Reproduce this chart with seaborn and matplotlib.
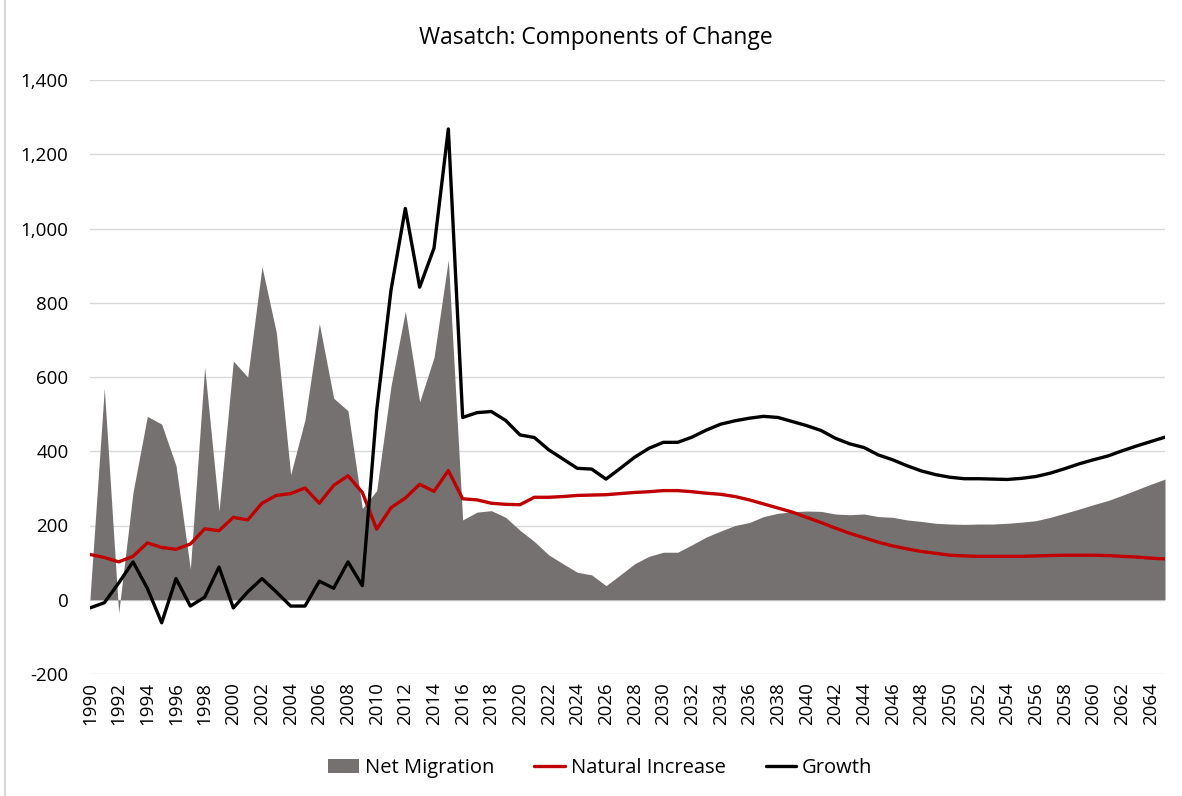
import matplotlib
matplotlib.use("Agg")
import matplotlib.pyplot as plt
import matplotlib.ticker as mticker
from matplotlib.patches import Patch
from matplotlib.lines import Line2D
import seaborn as sns
import pandas as pd

# data
years = list(range(1990, 2066))

net_migration = [
    5, 570, -36, 289, 494, 473, 361, 83, 626, 239,
    643, 600, 897, 720, 337, 485, 744, 543, 509, 246,
    294, 576, 777, 533, 653, 916, 215, 236, 240, 222,
    187, 157, 121, 97, 74, 67, 38, 67, 97, 117,
    128, 128, 148, 169, 185, 200, 208, 224, 233, 237,
    239, 238, 231, 229, 231, 224, 222, 215, 211, 206,
    204, 203, 204, 204, 206, 209, 213, 222, 233, 244,
    256, 267, 281, 296, 311, 325,
]

natural_increase = [
    122, 114, 102, 117, 153, 141, 136, 150, 191, 186,
    222, 215, 260, 281, 286, 301, 260, 308, 334, 289,
    190, 248, 274, 311, 292, 348, 272, 269, 260, 257,
    256, 276, 276, 278, 281, 282, 283, 286, 289, 291,
    294, 294, 291, 287, 284, 278, 269, 258, 247, 236,
    222, 208, 193, 179, 167, 155, 145, 137, 130, 125,
    120, 118, 117, 117, 117, 117, 118, 119, 120, 120,
    120, 119, 117, 115, 112, 110,
]

growth = [
    -22, -8, 45, 102, 31, -62, 57, -17, 7, 88,
    -22, 21, 57, 21, -17, -17, 50, 31, 102, 38,
    510, 834, 1054, 842, 947, 1268, 491, 504, 507, 483,
    444, 437, 404, 379, 354, 352, 325, 354, 384, 408,
    424, 424, 438, 457, 473, 482, 489, 494, 491, 480,
    469, 456, 435, 420, 410, 390, 377, 361, 347, 337,
    330, 326, 326, 325, 324, 327, 332, 341, 353, 366,
    377, 387, 401, 414, 426, 438,
]

df = pd.DataFrame({
    "Year": years,
    "Net Migration": net_migration,
    "Natural Increase": natural_increase,
    "Growth": growth,
})

sns.set_style("white")
plt.rcParams["font.family"] = ["Open Sans", "DejaVu Sans"]
plt.rcParams["text.color"] = "black"

AREA = "#767171"
RED = "#C00000"

fig = plt.figure(figsize=(11.82, 7.96), dpi=100)
ax = fig.add_axes([90 / 1182, 122 / 796, 1075 / 1182, 594 / 796])

ax.fill_between(df["Year"], 0, df["Net Migration"], color=AREA, linewidth=0, zorder=2)
sns.lineplot(data=df, x="Year", y="Natural Increase", color=RED, linewidth=2.4, ax=ax, zorder=3)
sns.lineplot(data=df, x="Year", y="Growth", color="black", linewidth=2.4, ax=ax, zorder=4)

ax.set_xlim(1990, 2065)
ax.set_ylim(-200, 1400)
ax.yaxis.set_major_locator(mticker.MultipleLocator(200))
ax.yaxis.set_major_formatter(mticker.FuncFormatter(lambda v, p: f"{int(v):,}"))
ax.set_xticks(list(range(1990, 2066, 2)))
ax.set_xticklabels([str(y) for y in range(1990, 2066, 2)], rotation=90)
ax.tick_params(axis="both", length=0, labelsize=13.5, colors="black")
ax.tick_params(axis="y", pad=15.5)
ax.tick_params(axis="x", pad=6)
ax.grid(axis="y", color="#d9d9d9", linewidth=1, zorder=0)
ax.set_axisbelow(True)
for s in ax.spines.values():
    s.set_visible(False)
ax.set_xlabel("")
ax.set_ylabel("")

fig.text(0.504, 1 - 38 / 796, "Wasatch: Components of Change", ha="center", va="center",
         fontsize=16.5, color="black")

handles = [
    Patch(facecolor=AREA, edgecolor="none"),
    Line2D([], [], color=RED, linewidth=2.4),
    Line2D([], [], color="black", linewidth=2.4),
]
fig.legend(handles, ["Net Migration", "Natural Increase", "Growth"], loc="center",
           bbox_to_anchor=(0.508, 1 - 768 / 796), ncol=3, frameon=False, fontsize=14.5,
           handlelength=1.5, handletextpad=0.3, columnspacing=2.0, labelcolor="black")

fig.add_artist(Line2D([5 / 1182, 5 / 1182], [0, 1], color="#d9d9d9", linewidth=1.5))

fig.savefig("out.png", dpi=100, facecolor="white")
plt.close(fig)
